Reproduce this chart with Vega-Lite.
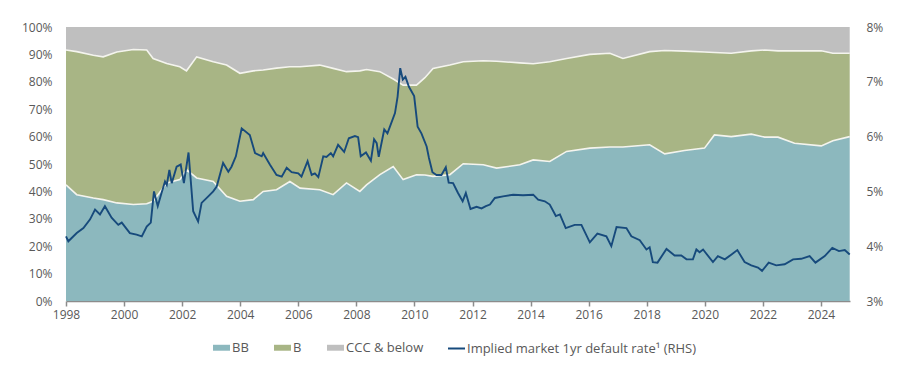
{
  "$schema": "https://vega.github.io/schema/vega-lite/v6.json",
  "autosize": {"type": "none"},
  "padding": {"left": 66, "top": 27, "right": 50, "bottom": 66},
  "width": 784,
  "height": 274,
  "background": "white",
  "config": {
    "view": {"stroke": null},
    "font": "Open Sans",
    "axis": {"labelFont": "Open Sans", "labelFontSize": 12, "labelColor": "#595959", "grid": false, "title": null},
    "legend": {"labelFont": "Open Sans", "labelFontSize": 13, "labelColor": "#595959", "labelLimit": 400, "padding": 0}
  },
  "datasets": {
    "ratings": [
      {"year": 1998.0, "BB": 42.4, "B": 49.2, "CCC & below": 8.4},
      {"year": 1998.37, "BB": 38.8, "B": 52.2, "CCC & below": 9.0},
      {"year": 1998.94, "BB": 37.6, "B": 52.1, "CCC & below": 10.3},
      {"year": 1999.28, "BB": 37.0, "B": 52.1, "CCC & below": 10.9},
      {"year": 1999.75, "BB": 35.8, "B": 55.1, "CCC & below": 9.1},
      {"year": 2000.32, "BB": 35.2, "B": 56.6, "CCC & below": 8.2},
      {"year": 2000.78, "BB": 35.5, "B": 56.1, "CCC & below": 8.4},
      {"year": 2001.0, "BB": 36.4, "B": 52.1, "CCC & below": 11.5},
      {"year": 2001.47, "BB": 43.1, "B": 43.6, "CCC & below": 13.3},
      {"year": 2001.92, "BB": 44.3, "B": 41.2, "CCC & below": 14.5},
      {"year": 2002.15, "BB": 47.9, "B": 36.1, "CCC & below": 16.0},
      {"year": 2002.5, "BB": 44.9, "B": 44.2, "CCC & below": 10.9},
      {"year": 2003.07, "BB": 43.6, "B": 43.7, "CCC & below": 12.7},
      {"year": 2003.53, "BB": 38.2, "B": 47.9, "CCC & below": 13.9},
      {"year": 2003.99, "BB": 36.4, "B": 46.7, "CCC & below": 16.9},
      {"year": 2004.45, "BB": 37.0, "B": 47.0, "CCC & below": 16.0},
      {"year": 2004.79, "BB": 40.0, "B": 44.3, "CCC & below": 15.7},
      {"year": 2005.25, "BB": 40.6, "B": 44.4, "CCC & below": 15.0},
      {"year": 2005.71, "BB": 43.6, "B": 41.9, "CCC & below": 14.5},
      {"year": 2006.06, "BB": 41.2, "B": 44.3, "CCC & below": 14.5},
      {"year": 2006.74, "BB": 40.6, "B": 45.5, "CCC & below": 13.9},
      {"year": 2007.2, "BB": 38.8, "B": 46.1, "CCC & below": 15.1},
      {"year": 2007.66, "BB": 43.1, "B": 40.6, "CCC & below": 16.3},
      {"year": 2008.12, "BB": 40.0, "B": 44.0, "CCC & below": 16.0},
      {"year": 2008.35, "BB": 42.4, "B": 42.1, "CCC & below": 15.5},
      {"year": 2008.81, "BB": 46.1, "B": 37.6, "CCC & below": 16.3},
      {"year": 2009.27, "BB": 49.1, "B": 31.9, "CCC & below": 19.0},
      {"year": 2009.61, "BB": 44.3, "B": 34.5, "CCC & below": 21.2},
      {"year": 2010.07, "BB": 46.1, "B": 32.7, "CCC & below": 21.2},
      {"year": 2010.36, "BB": 46.0, "B": 35.5, "CCC & below": 18.5},
      {"year": 2010.64, "BB": 45.5, "B": 39.4, "CCC & below": 15.1},
      {"year": 2011.22, "BB": 46.1, "B": 40.0, "CCC & below": 13.9},
      {"year": 2011.68, "BB": 50.1, "B": 37.2, "CCC & below": 12.7},
      {"year": 2012.37, "BB": 49.7, "B": 38.0, "CCC & below": 12.3},
      {"year": 2012.83, "BB": 48.5, "B": 39.0, "CCC & below": 12.5},
      {"year": 2013.63, "BB": 49.7, "B": 37.2, "CCC & below": 13.1},
      {"year": 2014.09, "BB": 51.5, "B": 35.1, "CCC & below": 13.4},
      {"year": 2014.66, "BB": 50.9, "B": 36.4, "CCC & below": 12.7},
      {"year": 2015.24, "BB": 54.6, "B": 33.9, "CCC & below": 11.5},
      {"year": 2016.04, "BB": 55.8, "B": 34.2, "CCC & below": 10.0},
      {"year": 2016.73, "BB": 56.2, "B": 34.2, "CCC & below": 9.6},
      {"year": 2017.18, "BB": 56.2, "B": 32.3, "CCC & below": 11.5},
      {"year": 2018.1, "BB": 57.0, "B": 34.0, "CCC & below": 9.0},
      {"year": 2018.62, "BB": 53.7, "B": 37.7, "CCC & below": 8.6},
      {"year": 2019.3, "BB": 54.9, "B": 36.3, "CCC & below": 8.8},
      {"year": 2019.99, "BB": 55.8, "B": 35.1, "CCC & below": 9.1},
      {"year": 2020.33, "BB": 60.6, "B": 30.1, "CCC & below": 9.3},
      {"year": 2020.91, "BB": 60.0, "B": 30.4, "CCC & below": 9.6},
      {"year": 2021.6, "BB": 60.9, "B": 30.4, "CCC & below": 8.7},
      {"year": 2022.06, "BB": 59.8, "B": 31.8, "CCC & below": 8.4},
      {"year": 2022.52, "BB": 59.8, "B": 31.5, "CCC & below": 8.7},
      {"year": 2023.09, "BB": 57.6, "B": 33.7, "CCC & below": 8.7},
      {"year": 2024.01, "BB": 56.6, "B": 34.7, "CCC & below": 8.7},
      {"year": 2024.41, "BB": 58.5, "B": 31.9, "CCC & below": 9.6},
      {"year": 2024.99, "BB": 60.0, "B": 30.4, "CCC & below": 9.6}
    ],
    "order": [
      {"rating": "BB", "ord": 1},
      {"rating": "B", "ord": 2},
      {"rating": "CCC & below", "ord": 3}
    ],
    "rate": [
      {"year": 1998.00, "rate": 4.18}, {"year": 1998.08, "rate": 4.09}, {"year": 1998.37, "rate": 4.24},
      {"year": 1998.60, "rate": 4.33}, {"year": 1998.83, "rate": 4.49}, {"year": 1999.00, "rate": 4.67},
      {"year": 1999.17, "rate": 4.58}, {"year": 1999.34, "rate": 4.73}, {"year": 1999.57, "rate": 4.52},
      {"year": 1999.80, "rate": 4.39}, {"year": 1999.92, "rate": 4.43}, {"year": 2000.20, "rate": 4.24},
      {"year": 2000.43, "rate": 4.21}, {"year": 2000.61, "rate": 4.18}, {"year": 2000.78, "rate": 4.36},
      {"year": 2000.92, "rate": 4.43}, {"year": 2001.03, "rate": 5.00}, {"year": 2001.16, "rate": 4.73},
      {"year": 2001.29, "rate": 4.97}, {"year": 2001.41, "rate": 5.18}, {"year": 2001.47, "rate": 5.12},
      {"year": 2001.56, "rate": 5.39}, {"year": 2001.64, "rate": 5.15}, {"year": 2001.81, "rate": 5.45},
      {"year": 2001.95, "rate": 5.49}, {"year": 2002.06, "rate": 5.15}, {"year": 2002.22, "rate": 5.71},
      {"year": 2002.38, "rate": 4.64}, {"year": 2002.55, "rate": 4.45}, {"year": 2002.67, "rate": 4.79},
      {"year": 2002.90, "rate": 4.91}, {"year": 2003.07, "rate": 5.00}, {"year": 2003.19, "rate": 5.09},
      {"year": 2003.41, "rate": 5.52}, {"year": 2003.59, "rate": 5.36}, {"year": 2003.70, "rate": 5.45},
      {"year": 2003.85, "rate": 5.64}, {"year": 2004.05, "rate": 6.15}, {"year": 2004.33, "rate": 6.03},
      {"year": 2004.51, "rate": 5.70}, {"year": 2004.74, "rate": 5.64}, {"year": 2004.79, "rate": 5.70},
      {"year": 2005.02, "rate": 5.49}, {"year": 2005.25, "rate": 5.30}, {"year": 2005.43, "rate": 5.27},
      {"year": 2005.60, "rate": 5.43}, {"year": 2005.77, "rate": 5.35}, {"year": 2006.00, "rate": 5.33},
      {"year": 2006.11, "rate": 5.27}, {"year": 2006.32, "rate": 5.55}, {"year": 2006.46, "rate": 5.30},
      {"year": 2006.57, "rate": 5.33}, {"year": 2006.69, "rate": 5.26}, {"year": 2006.86, "rate": 5.64},
      {"year": 2006.97, "rate": 5.63}, {"year": 2007.12, "rate": 5.70}, {"year": 2007.20, "rate": 5.64},
      {"year": 2007.37, "rate": 5.85}, {"year": 2007.58, "rate": 5.72}, {"year": 2007.74, "rate": 5.97},
      {"year": 2007.95, "rate": 6.01}, {"year": 2008.06, "rate": 5.99}, {"year": 2008.15, "rate": 5.64},
      {"year": 2008.33, "rate": 5.71}, {"year": 2008.50, "rate": 5.56}, {"year": 2008.61, "rate": 5.95},
      {"year": 2008.70, "rate": 5.88}, {"year": 2008.77, "rate": 5.63}, {"year": 2008.96, "rate": 6.13},
      {"year": 2009.07, "rate": 6.06}, {"year": 2009.33, "rate": 6.43}, {"year": 2009.42, "rate": 6.73},
      {"year": 2009.51, "rate": 7.25}, {"year": 2009.60, "rate": 7.04}, {"year": 2009.69, "rate": 7.09},
      {"year": 2009.81, "rate": 6.91}, {"year": 2009.99, "rate": 6.74}, {"year": 2010.11, "rate": 6.18},
      {"year": 2010.24, "rate": 6.06}, {"year": 2010.42, "rate": 5.82}, {"year": 2010.50, "rate": 5.61},
      {"year": 2010.62, "rate": 5.35}, {"year": 2010.76, "rate": 5.30}, {"year": 2010.93, "rate": 5.30},
      {"year": 2011.08, "rate": 5.44}, {"year": 2011.18, "rate": 5.16}, {"year": 2011.33, "rate": 5.15},
      {"year": 2011.50, "rate": 4.97}, {"year": 2011.66, "rate": 4.82}, {"year": 2011.77, "rate": 4.97},
      {"year": 2011.93, "rate": 4.68}, {"year": 2012.14, "rate": 4.72}, {"year": 2012.31, "rate": 4.69},
      {"year": 2012.46, "rate": 4.73}, {"year": 2012.60, "rate": 4.76}, {"year": 2012.77, "rate": 4.88},
      {"year": 2013.05, "rate": 4.91}, {"year": 2013.40, "rate": 4.94}, {"year": 2013.74, "rate": 4.93},
      {"year": 2014.09, "rate": 4.94}, {"year": 2014.26, "rate": 4.85}, {"year": 2014.49, "rate": 4.82},
      {"year": 2014.66, "rate": 4.76}, {"year": 2014.87, "rate": 4.55}, {"year": 2015.01, "rate": 4.58},
      {"year": 2015.21, "rate": 4.33}, {"year": 2015.52, "rate": 4.39}, {"year": 2015.75, "rate": 4.39},
      {"year": 2016.04, "rate": 4.07}, {"year": 2016.30, "rate": 4.23}, {"year": 2016.61, "rate": 4.18},
      {"year": 2016.78, "rate": 4.00}, {"year": 2016.96, "rate": 4.35}, {"year": 2017.30, "rate": 4.33},
      {"year": 2017.47, "rate": 4.18}, {"year": 2017.76, "rate": 4.11}, {"year": 2017.99, "rate": 3.94},
      {"year": 2018.10, "rate": 3.98}, {"year": 2018.21, "rate": 3.71}, {"year": 2018.37, "rate": 3.70},
      {"year": 2018.68, "rate": 3.95}, {"year": 2018.96, "rate": 3.83}, {"year": 2019.19, "rate": 3.83},
      {"year": 2019.37, "rate": 3.76}, {"year": 2019.59, "rate": 3.76}, {"year": 2019.71, "rate": 3.94},
      {"year": 2019.82, "rate": 3.89}, {"year": 2019.94, "rate": 3.94}, {"year": 2020.28, "rate": 3.71},
      {"year": 2020.45, "rate": 3.82}, {"year": 2020.69, "rate": 3.76}, {"year": 2020.92, "rate": 3.85},
      {"year": 2021.12, "rate": 3.93}, {"year": 2021.37, "rate": 3.71}, {"year": 2021.60, "rate": 3.65},
      {"year": 2021.83, "rate": 3.61}, {"year": 2021.97, "rate": 3.55}, {"year": 2022.20, "rate": 3.70},
      {"year": 2022.46, "rate": 3.65}, {"year": 2022.75, "rate": 3.67}, {"year": 2023.04, "rate": 3.76},
      {"year": 2023.32, "rate": 3.77}, {"year": 2023.61, "rate": 3.82}, {"year": 2023.81, "rate": 3.70},
      {"year": 2024.13, "rate": 3.82}, {"year": 2024.39, "rate": 3.97}, {"year": 2024.62, "rate": 3.91},
      {"year": 2024.82, "rate": 3.93}, {"year": 2024.99, "rate": 3.85}
    ]
  },
  "layer": [
    {
      "data": {"name": "ratings"},
      "transform": [
        {"fold": ["BB", "B", "CCC & below"], "as": ["rating", "value"]},
        {"lookup": "rating", "from": {"data": {"name": "order"}, "key": "rating", "fields": ["ord"]}}
      ],
      "mark": {"type": "area", "opacity": 1},
      "encoding": {
        "x": {
          "field": "year", "type": "quantitative",
          "scale": {"domain": [1998, 2025], "nice": false, "zero": false},
          "axis": {
            "values": [1998, 2000, 2002, 2004, 2006, 2008, 2010, 2012, 2014, 2016, 2018, 2020, 2022, 2024],
            "format": "d", "labelFlush": false, "domainColor": "#8c8c8c", "tickColor": "#8c8c8c", "tickSize": 5, "labelPadding": 3, "domainWidth": 1.5, "tickWidth": 1.5
          }
        },
        "y": {
          "field": "value", "type": "quantitative", "stack": "zero",
          "scale": {"domain": [0, 100], "nice": false},
          "axis": {"values": [0, 10, 20, 30, 40, 50, 60, 70, 80, 90, 100], "labelExpr": "datum.value + '%'", "domain": false, "ticks": false, "labelPadding": 14}
        },
        "order": {"field": "ord", "type": "quantitative"},
        "fill": {
          "field": "rating", "type": "nominal",
          "scale": {
            "domain": ["BB", "B", "CCC & below"],
            "range": ["#8CB8BE", "#A8B585", "#BFBFBF"]
          },
          "legend": {
            "orient": "none", "legendX": 147, "legendY": 312, "direction": "horizontal", "title": null,
            "columnPadding": 25, "symbolSize": 289, "labelOffset": 2,
            "symbolType": "M-1,-0.35H1V0.35H-1Z", "symbolStrokeWidth": 0, "symbolOpacity": 1
          }
        }
      }
    },
    {
      "data": {"name": "ratings"},
      "transform": [
        {"fold": ["BB", "B", "CCC & below"], "as": ["rating", "value"]},
        {"lookup": "rating", "from": {"data": {"name": "order"}, "key": "rating", "fields": ["ord"]}},
        {"filter": "datum.rating != 'CCC & below'"}
      ],
      "mark": {"type": "line", "stroke": "#F4F4EE", "strokeWidth": 1.6},
      "encoding": {
        "x": {"field": "year", "type": "quantitative"},
        "y": {"field": "value", "type": "quantitative", "stack": "zero", "scale": {"domain": [0, 100], "nice": false}, "axis": null},
        "order": {"field": "ord", "type": "quantitative"},
        "detail": {"field": "rating", "type": "nominal"}
      }
    },
    {
      "data": {"name": "rate"},
      "mark": {"type": "line", "strokeWidth": 1.9},
      "encoding": {
        "x": {"field": "year", "type": "quantitative"},
        "y": {
          "field": "rate", "type": "quantitative",
          "scale": {"domain": [3, 8], "nice": false, "zero": false},
          "axis": {"orient": "right", "values": [3, 4, 5, 6, 7, 8], "labelExpr": "datum.value + '%'", "domain": false, "ticks": false, "labelPadding": 16}
        },
        "stroke": {
          "datum": "Implied market 1yr default rate¹ (RHS)", "type": "nominal",
          "scale": {"domain": ["Implied market 1yr default rate¹ (RHS)"], "range": ["#174A7C"]},
          "legend": {
            "orient": "none", "legendX": 381, "legendY": 312, "title": null,
            "symbolType": "stroke", "symbolSize": 289, "symbolStrokeWidth": 2, "labelOffset": 1
          }
        }
      }
    }
  ],
  "resolve": {"scale": {"y": "independent"}}
}
